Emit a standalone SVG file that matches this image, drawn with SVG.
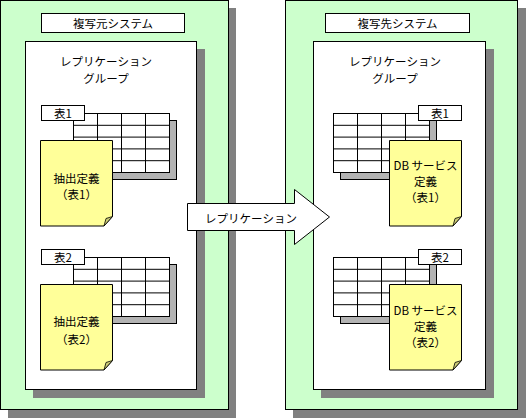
<svg xmlns="http://www.w3.org/2000/svg" width="526" height="418" viewBox="0 0 526 418">
<style>
text{font-family:"Noto Sans CJK JP","Liberation Sans",sans-serif;font-size:11.5px;fill:#000;text-anchor:middle;dominant-baseline:central}
.sys{fill:#ccffcc;stroke:#000;stroke-width:1}
.shd{fill:#808080}
.box{fill:#fff;stroke:#000;stroke-width:1}
.tshd{fill:#b3b3b3;stroke:#000;stroke-width:1}
.grid{fill:#fff;stroke:#000;stroke-width:1}
.gl{stroke:#000;stroke-width:1;fill:none}
.doc{fill:#ffff99;stroke:#000;stroke-width:1}
.fold{fill:#cccc77;stroke:#000;stroke-width:0.8}
</style>
<defs>
<g id="gridlines">
<rect class="tshd" x="7" y="7" width="96" height="59"/>
<rect class="grid" x="0" y="0" width="96" height="59"/>
<path class="gl" d="M24,0V59M48,0V59M72,0V59M0,11.8H96M0,23.6H96M0,35.4H96M0,47.2H96"/>
</g>
<g id="docshape">
<path class="doc" d="M0,0H72V76L63.5,85.5H0Z"/>
<path class="fold" d="M72,76L63.5,85.5L65.5,78Z"/>
</g>
</defs>

<g id="source-system">
<rect class="shd" x="8" y="8" width="228" height="410"/>
<rect class="sys" x="0.5" y="0.5" width="228" height="409"/>
<rect class="box" x="41.5" y="13.5" width="143" height="19"/>
<text x="113" y="23">複写元システム</text>
</g>
<g id="source-group">
<rect class="shd" x="33" y="49" width="172" height="349"/>
<rect class="box" x="25.5" y="41.5" width="171" height="348"/>
<text x="106" y="61">レプリケーション</text>
<text x="106" y="78">グループ</text>
</g>
<g id="source-table1">
<use href="#gridlines" x="73.5" y="113.5"/>
<rect class="box" x="41.5" y="105.5" width="43" height="15"/>
<text x="63" y="113">表1</text>
</g>
<g id="source-def1">
<use href="#docshape" x="40.5" y="140.5"/>
<text x="76.5" y="178">抽出定義</text>
<text x="76.5" y="194">（表1）</text>
</g>
<g id="source-table2">
<use href="#gridlines" x="73.5" y="257.5"/>
<rect class="box" x="41.5" y="249.5" width="43" height="15"/>
<text x="63" y="257">表2</text>
</g>
<g id="source-def2">
<use href="#docshape" x="40.5" y="284.5"/>
<text x="76.5" y="321">抽出定義</text>
<text x="76.5" y="339">（表2）</text>
</g>

<g id="target-system">
<rect class="shd" x="293" y="8" width="233" height="410"/>
<rect class="sys" x="285.5" y="0.5" width="232" height="409"/>
<rect class="box" x="325.5" y="13.5" width="144" height="19"/>
<text x="397.5" y="23">複写先システム</text>
</g>
<g id="target-group">
<rect class="shd" x="321" y="49" width="173" height="349"/>
<rect class="box" x="313.5" y="41.5" width="172" height="348"/>
<text x="395" y="61">レプリケーション</text>
<text x="395" y="78">グループ</text>
</g>
<g id="target-table1">
<use href="#gridlines" x="333.5" y="113.5"/>
<rect class="box" x="418.5" y="105.5" width="43" height="15"/>
<text x="440" y="113">表1</text>
</g>
<g id="target-def1">
<use href="#docshape" x="389.5" y="140.5"/>
<text x="425.5" y="165">DB サービス</text>
<text x="425.5" y="181">定義</text>
<text x="425.5" y="197">（表1）</text>
</g>
<g id="target-table2">
<use href="#gridlines" x="333.5" y="257.5"/>
<rect class="box" x="418.5" y="249.5" width="43" height="15"/>
<text x="440" y="257">表2</text>
</g>
<g id="target-def2">
<use href="#docshape" x="389.5" y="284.5"/>
<text x="425.5" y="310">DB サービス</text>
<text x="425.5" y="326">定義</text>
<text x="425.5" y="342">（表2）</text>
</g>

<g id="connectors">
<path class="box" d="M187.5,203.5H294.5V189.5L329.5,217L294.5,244.5V230.5H187.5Z"/>
<text x="251" y="218">レプリケーション</text>
</g>
</svg>
